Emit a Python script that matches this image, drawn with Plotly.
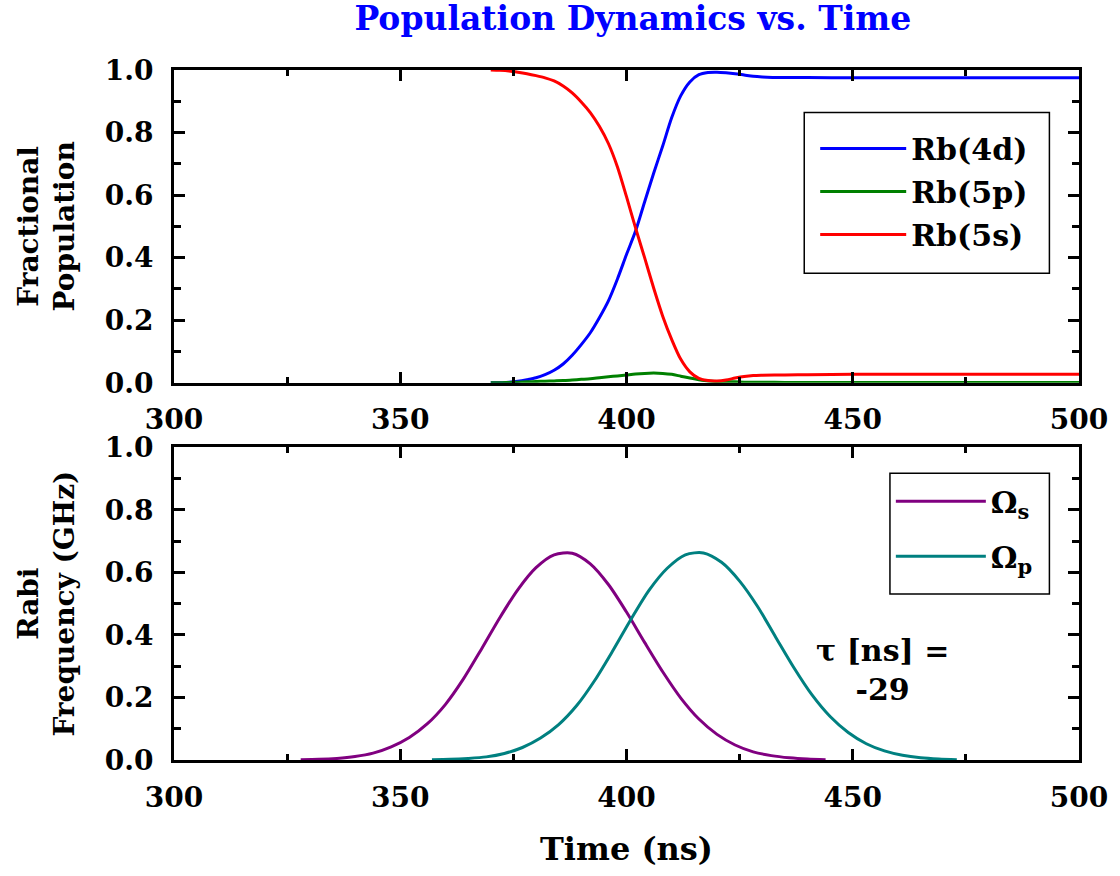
import plotly.graph_objects as go

# ---------------- data ----------------
t_pop = [370, 372, 374, 376, 378, 380, 382, 384, 386, 388, 390, 392, 394, 396, 398,
         400, 402, 404, 406, 408, 410, 412, 414, 416, 418, 420, 422, 424, 426, 428,
         430, 435, 440, 450, 460, 470, 480, 490, 500]
rb4d = [0.000, 0.000, 0.002, 0.005, 0.010, 0.016, 0.026, 0.040, 0.060, 0.088, 0.122, 0.160,
        0.208, 0.262, 0.332, 0.410, 0.485, 0.578, 0.670, 0.757, 0.848, 0.918, 0.962, 0.985,
        0.992, 0.993, 0.991, 0.988, 0.984, 0.980, 0.978, 0.976, 0.976, 0.975, 0.975, 0.975,
        0.975, 0.975, 0.975]
rb5p = [0.000, 0.000, 0.001, 0.002, 0.003, 0.004, 0.005, 0.006, 0.007, 0.009, 0.011, 0.013,
        0.016, 0.019, 0.022, 0.025, 0.028, 0.030, 0.031, 0.030, 0.027, 0.021, 0.015, 0.010,
        0.006, 0.004, 0.003, 0.003, 0.002, 0.002, 0.002, 0.001, 0.001, 0.001, 0.001, 0.001,
        0.001, 0.001, 0.001]
rb5s = [1.000, 0.999, 0.997, 0.993, 0.988, 0.982, 0.975, 0.965, 0.949, 0.927, 0.898, 0.864,
        0.820, 0.765, 0.690, 0.595, 0.495, 0.400, 0.303, 0.213, 0.138, 0.075, 0.035, 0.014,
        0.007, 0.006, 0.009, 0.015, 0.020, 0.023, 0.024, 0.025, 0.026, 0.027, 0.027, 0.027,
        0.027, 0.027, 0.027]

t_s = [328, 332, 336, 340, 344, 348, 352, 356, 360, 364, 368, 372, 376, 380, 384,
       388, 392, 396, 400, 404, 408, 412, 416, 420, 424, 428, 432, 436, 440, 444]
omega_s = [0.001, 0.002, 0.005, 0.011, 0.022, 0.042, 0.072, 0.116, 0.178, 0.260, 0.356,
           0.455, 0.545, 0.615, 0.656, 0.661, 0.627, 0.561, 0.473, 0.376, 0.282, 0.198,
           0.131, 0.082, 0.048, 0.026, 0.014, 0.007, 0.003, 0.001]

t_p = [357, 361, 365, 369, 373, 377, 381, 385, 389, 393, 397, 401, 405, 409, 413,
       417, 421, 425, 429, 433, 437, 441, 445, 449, 453, 457, 461, 465, 469, 473]
omega_p = [0.001, 0.002, 0.005, 0.010, 0.021, 0.040, 0.070, 0.113, 0.174, 0.255, 0.350,
           0.450, 0.543, 0.613, 0.656, 0.662, 0.632, 0.572, 0.490, 0.392, 0.295, 0.208,
           0.139, 0.088, 0.052, 0.029, 0.015, 0.007, 0.003, 0.001]

x_ticks = [300, 350, 400, 450, 500]
x_minor = [325, 375, 425, 475]
y_ticks = [0.0, 0.2, 0.4, 0.6, 0.8, 1.0]
y_minor = [0.1, 0.3, 0.5, 0.7, 0.9]
tau_label = "τ [ns] =<br>-29"

# ---------------- styling ----------------
FONT = "DejaVu Serif"
TICKF = dict(family=FONT, size=28, color="black", weight="bold")
LEGF = dict(family=FONT, size=30, color="black", weight="bold")

fig = go.Figure()

line_kw = dict(width=3, shape="spline", smoothing=0.8)
fig.add_trace(go.Scatter(x=t_pop, y=rb4d, mode="lines", name="Rb(4d)",
                         line=dict(color="#0000ff", **line_kw),
                         xaxis="x", yaxis="y", legend="legend", legendgroup="a"))
fig.add_trace(go.Scatter(x=t_pop, y=rb5p, mode="lines", name="Rb(5p)",
                         line=dict(color="#008000", **line_kw),
                         xaxis="x", yaxis="y", legend="legend", legendgroup="b"))
fig.add_trace(go.Scatter(x=t_pop, y=rb5s, mode="lines", name="Rb(5s)",
                         line=dict(color="#ff0000", **line_kw),
                         xaxis="x", yaxis="y", legend="legend", legendgroup="c"))

fig.add_trace(go.Scatter(x=t_s, y=omega_s, mode="lines", name="Ω<sub>s</sub>",
                         line=dict(color="#800080", **line_kw),
                         xaxis="x2", yaxis="y2", legend="legend2", legendgroup="d"))
fig.add_trace(go.Scatter(x=t_p, y=omega_p, mode="lines", name="Ω<sub>p</sub>",
                         line=dict(color="#008080", **line_kw),
                         xaxis="x2", yaxis="y2", legend="legend2", legendgroup="e"))

def xaxis_style(anchor, title=None):
    d = dict(range=[300, 500], tickvals=x_ticks, ticks="inside", ticklen=11, tickwidth=3,
             tickcolor="black", showline=True, linewidth=3, linecolor="black",
             mirror="allticks", showgrid=False, zeroline=False, tickfont=TICKF,
             ticklabelstandoff=10, anchor=anchor,
             minor=dict(tickvals=x_minor, ticks="inside", ticklen=6, tickwidth=3,
                        tickcolor="black", showgrid=False))
    if title:
        d["title"] = dict(text=title, font=dict(family=FONT, size=32, color="black",
                                                weight="bold"), standoff=26)
    return d

def yaxis_style(anchor, domain, title):
    return dict(range=[0, 1], tickvals=y_ticks, tickformat=".1f", ticks="inside",
                ticklen=11, tickwidth=3, tickcolor="black", showline=True, linewidth=3,
                linecolor="black", mirror="allticks", showgrid=False, zeroline=False,
                tickfont=TICKF, ticklabelstandoff=12, anchor=anchor, domain=domain,
                minor=dict(tickvals=y_minor, ticks="inside", ticklen=7, tickwidth=3,
                           tickcolor="black", showgrid=False),
                title=dict(text=title, font=dict(family=FONT, size=28, color="black",
                                                 weight="bold"), standoff=22))

box_line = dict(color="black", width=1.5)

fig.update_layout(
    width=1120, height=876,
    margin=dict(l=174, r=38, t=70, b=116),
    paper_bgcolor="white", plot_bgcolor="white",
    title=dict(text="Population Dynamics vs. Time", x=0.565, xanchor="center",
               y=0.979, yanchor="middle",
               font=dict(family=FONT, size=33, color="#0000ff", weight="bold")),
    xaxis=xaxis_style("y"),
    yaxis=yaxis_style("x", [0.5467, 1.0], "Fractional<br>Population"),
    xaxis2=xaxis_style("y2", "Time (ns)"),
    yaxis2=yaxis_style("x2", [0.0, 0.4533], "Rabi<br>Frequency (GHz)"),
    legend=dict(x=0.7085, y=0.924, xanchor="left", yanchor="top",
                borderwidth=0, bgcolor="rgba(0,0,0,0)",
                font=LEGF, itemwidth=86, tracegroupgap=1, traceorder="grouped"),
    legend2=dict(x=0.7921, y=0.4127, xanchor="left", yanchor="top",
                 borderwidth=0, bgcolor="rgba(0,0,0,0)",
                 font=LEGF, itemwidth=90, tracegroupgap=13, traceorder="grouped"),
    shapes=[
        dict(type="rect", xref="paper", yref="paper", x0=0.6964, x1=0.9673,
             y0=0.7053, y1=0.9385, line=box_line, fillcolor="white", layer="below"),
        dict(type="rect", xref="paper", yref="paper", x0=0.7911, x1=0.9673,
             y0=0.2404, y1=0.4156, line=box_line, fillcolor="white", layer="below"),
    ],
    annotations=[dict(text=tau_label, xref="paper", yref="paper", x=0.783, y=0.131,
                      xanchor="center", yanchor="middle", showarrow=False, align="center",
                      font=dict(family=FONT, size=30, color="black", weight="bold"))],
)

fig.write_html("out.html")
